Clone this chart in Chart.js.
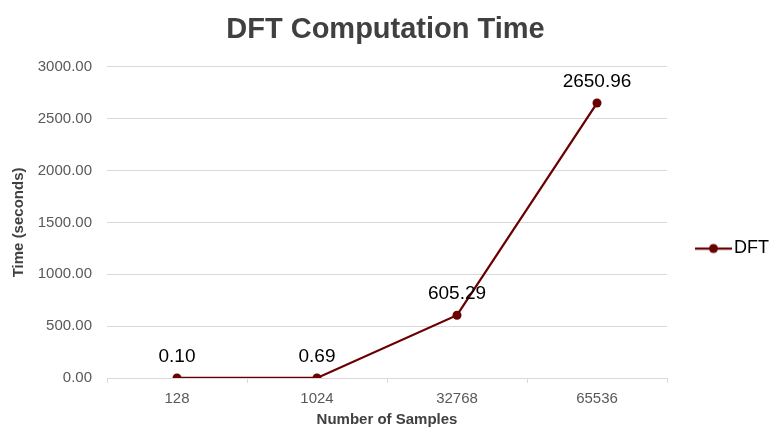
<!DOCTYPE html>
<html>
<head>
<meta charset="utf-8">
<script src="https://cdn.jsdelivr.net/npm/chart.js@4.4.1/dist/chart.umd.min.js"></script>
<style>
  html, body { margin: 0; padding: 0; background: #ffffff; }
  #wrap { width: 771px; height: 429px; position: relative; }
</style>
</head>
<body>
<div id="wrap"><canvas id="chart" width="771" height="429"></canvas></div>
<script>
// Sample counts on the x axis
const sampleSizes = ['128', '1024', '32768', '65536'];
// DFT run time in seconds for each sample size
const dftSeconds = [0.10, 0.69, 605.29, 2650.96];
// Value axis range
const yMin = 0;
const yMax = 3000;
const yStep = 500;

const lineColor = '#6b0000';
const FONT = "'Liberation Sans', Arial, sans-serif";

// Legend marker: a short line with a dot in its middle
function legendMarker() {
  const c = document.createElement('canvas');
  c.width = 37; c.height = 12;
  const g = c.getContext('2d');
  g.strokeStyle = lineColor;
  g.lineWidth = 2.25;
  g.beginPath(); g.moveTo(0, 6); g.lineTo(37, 6); g.stroke();
  g.fillStyle = lineColor;
  g.beginPath(); g.arc(18.5, 6, 4.5, 0, Math.PI * 2); g.fill();
  return c;
}

// Writes each point's value above it
const valueLabels = {
  id: 'valueLabels',
  afterDatasetsDraw(chart) {
    const ctx = chart.ctx;
    chart.data.datasets.forEach((ds, di) => {
      const meta = chart.getDatasetMeta(di);
      meta.data.forEach((pt, i) => {
        ctx.save();
        ctx.font = '19px ' + FONT;
        ctx.fillStyle = '#000000';
        ctx.textAlign = 'center';
        ctx.textBaseline = 'middle';
        ctx.fillText(ds.data[i].toFixed(2), pt.x, pt.y - 21);
        ctx.restore();
      });
    });
  }
};

new Chart(document.getElementById('chart'), {
  type: 'line',
  data: {
    labels: sampleSizes,
    datasets: [{
      label: 'DFT',
      data: dftSeconds,
      borderColor: lineColor,
      backgroundColor: lineColor,
      borderWidth: 2.25,
      pointRadius: 4.5,
      pointHoverRadius: 4.5,
      pointBackgroundColor: lineColor,
      pointBorderColor: lineColor,
      pointBorderWidth: 0,
      pointStyle: 'circle',
      tension: 0,
      fill: false
    }]
  },
  options: {
    responsive: false,
    animation: false,
    devicePixelRatio: 1,
    layout: { padding: { left: 0, right: 0, top: 0, bottom: 0 } },
    plugins: {
      title: {
        display: true,
        text: 'DFT Computation Time',
        color: '#404040',
        font: { family: FONT, size: 29, weight: 'bold' },
        padding: { top: 13, bottom: 19 }
      },
      legend: {
        display: true,
        position: 'right',
        maxWidth: 104,
        title: {
          display: true,
          text: '',
          font: { family: FONT, size: 10 },
          padding: { top: 56, bottom: 0 }
        },
        labels: {
          usePointStyle: true,
          pointStyle: legendMarker(),
          pointStyleWidth: 23,
          padding: 35,
          color: '#000000',
          font: { family: FONT, size: 18 },
          boxHeight: 12
        }
      },
      tooltip: { enabled: false }
    },
    scales: {
      x: {
        type: 'category',
        offset: true,
        afterFit(scale) { scale.height = 51; },
        grid: {
          offset: true,
          drawOnChartArea: false,
          drawTicks: true,
          tickLength: 5,
          color: '#d9d9d9'
        },
        border: { display: true, color: '#d9d9d9', width: 1 },
        ticks: {
          color: '#595959',
          font: { family: FONT, size: 15 },
          padding: 7,
          maxRotation: 0
        },
        title: {
          display: true,
          text: 'Number of Samples',
          color: '#404040',
          font: { family: FONT, size: 15, weight: 'bold' },
          padding: { top: 4, bottom: 0 }
        }
      },
      y: {
        min: yMin,
        max: yMax,
        afterFit(scale) { scale.width = 107; },
        grid: {
          color: '#d9d9d9',
          drawTicks: false,
          lineWidth: 1
        },
        border: { display: false },
        ticks: {
          stepSize: yStep,
          color: '#595959',
          font: { family: FONT, size: 15 },
          padding: 15,
          callback: (v) => Number(v).toFixed(2)
        },
        title: {
          display: true,
          text: 'Time (seconds)',
          color: '#404040',
          font: { family: FONT, size: 15, weight: 'bold' },
          padding: { top: 10, bottom: 0 }
        }
      }
    }
  },
  plugins: [valueLabels]
});
</script>
</body>
</html>
